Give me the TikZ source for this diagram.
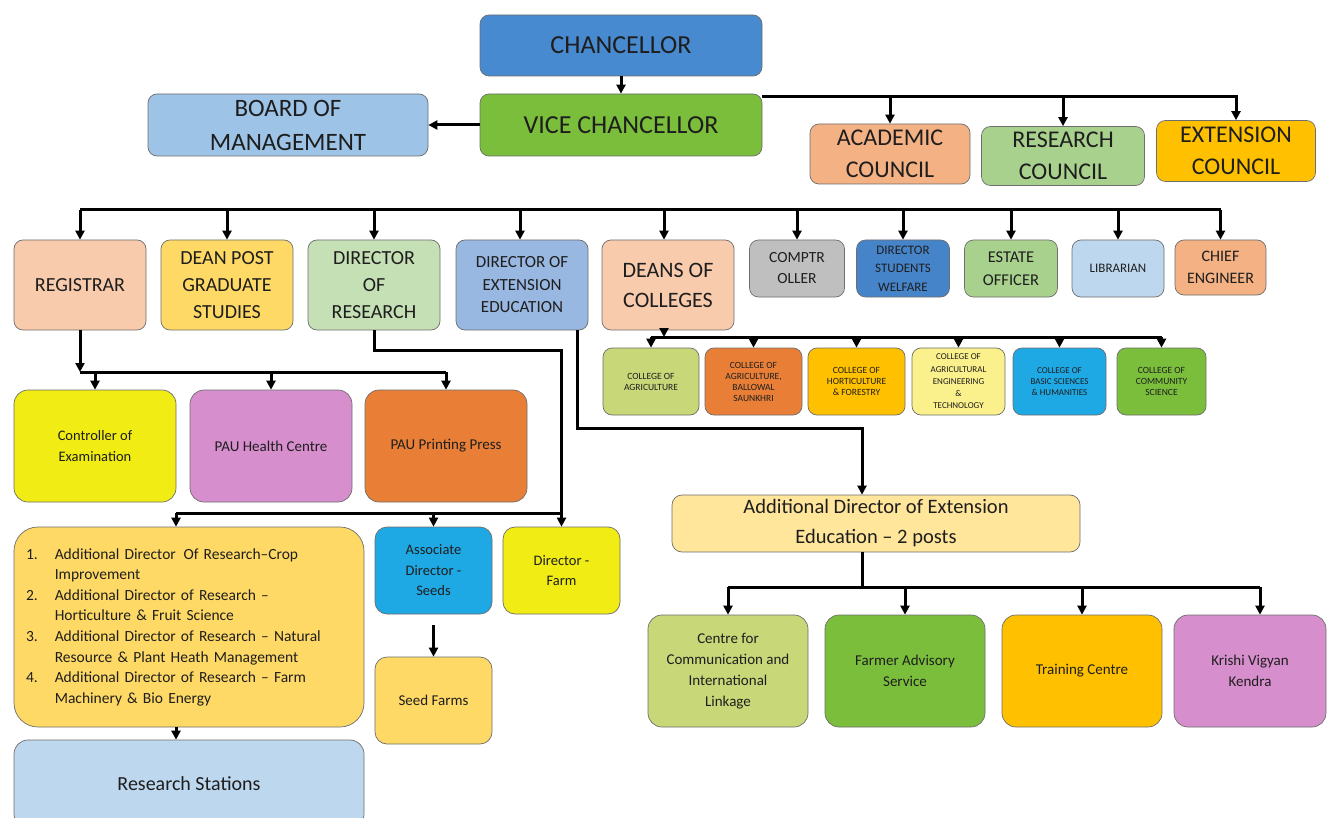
\documentclass[tikz,border=0pt]{standalone}
\usepackage{fontspec}
\setmainfont{Carlito}
\usetikzlibrary{arrows.meta}
\definecolor{txt}{RGB}{30,30,30}
\definecolor{bord}{RGB}{110,110,110}
\definecolor{cchan}{RGB}{72,138,208}
\definecolor{cvc}{RGB}{122,190,60}
\definecolor{cbom}{RGB}{157,195,230}
\definecolor{csalmon}{RGB}{244,177,131}
\definecolor{clgreen}{RGB}{169,209,142}
\definecolor{cgold}{RGB}{255,192,0}
\definecolor{cpeach}{RGB}{248,203,173}
\definecolor{cyel}{RGB}{255,217,102}
\definecolor{cpgreen}{RGB}{197,224,180}
\definecolor{cbgrey}{RGB}{152,183,225}
\definecolor{cgrey}{RGB}{191,191,191}
\definecolor{cdsw}{RGB}{70,132,202}
\definecolor{clblue}{RGB}{189,215,238}
\definecolor{colive}{RGB}{200,215,120}
\definecolor{corange}{RGB}{233,127,55}
\definecolor{cpale}{RGB}{250,240,140}
\definecolor{csky}{RGB}{30,168,228}
\definecolor{cbright}{RGB}{240,236,20}
\definecolor{cpink}{RGB}{215,142,205}
\definecolor{clight}{RGB}{255,230,155}
\tikzset{
  box/.style={draw=bord, line width=0.7pt, rounded corners=9pt, align=center, text=txt, inner sep=2pt},
  conn/.style={line width=3pt, draw=black},
  arr/.style={conn, -{Triangle[length=9pt,width=9pt]}},
  fs/.style 2 args={font=\fontsize{#1}{#2}\selectfont},
}
\begin{document}
\begin{tikzpicture}[x=1pt,y=-1pt]
\useasboundingbox (0,0) rectangle (1327,818);
\fill[white] (0,0) rectangle (1327,818);
% top
\node[box, fill=cchan, minimum width=282, minimum height=61, fs={26}{32}] (chan) at (621,45.5) {CHANCELLOR};
\node[box, fill=cvc, minimum width=282, minimum height=62, fs={26}{32}] (vc) at (621,125) {VICE CHANCELLOR};
\node[box, fill=cbom, minimum width=280, minimum height=62, fs={25}{34}] (bom) at (288,125) {BOARD OF\\MANAGEMENT};
\node[box, fill=csalmon, minimum width=160, minimum height=60, fs={24}{32}] (acad) at (890,154) {ACADEMIC\\COUNCIL};
\node[box, fill=clgreen, minimum width=163, minimum height=59, fs={24}{32}] (resc) at (1063,156) {RESEARCH\\COUNCIL};
\node[box, fill=cgold, minimum width=159, minimum height=61, fs={24}{32}] (extc) at (1236,151) {EXTENSION\\COUNCIL};
% second row
\node[box, fill=cpeach, minimum width=132, minimum height=90, fs={20}{27}] (reg) at (80,285) {REGISTRAR};
\node[box, fill=cyel, minimum width=132, minimum height=90, fs={20}{27}] (dpg) at (227,285) {DEAN POST\\GRADUATE\\STUDIES};
\node[box, fill=cpgreen, minimum width=132, minimum height=90, fs={20}{27}] (dres) at (374,285) {DIRECTOR\\OF\\RESEARCH};
\node[box, fill=cbgrey, minimum width=132, minimum height=90, fs={17}{22.5}] (dext) at (522,285) {DIRECTOR OF\\EXTENSION\\EDUCATION};
\node[box, fill=cpeach, minimum width=132, minimum height=90, fs={22}{30}] (deans) at (668,285) {DEANS OF\\COLLEGES};
\node[box, fill=cgrey, minimum width=95, minimum height=57, fs={15.5}{21}] (comp) at (797,268.5) {COMPTR\\OLLER};
\node[box, fill=cdsw, minimum width=93, minimum height=57, fs={13}{18.5}] (dsw) at (903,268.5) {DIRECTOR\\STUDENTS\\WELFARE};
\node[box, fill=clgreen, minimum width=93, minimum height=57, fs={16.5}{23}] (estate) at (1011,268.5) {ESTATE\\OFFICER};
\node[box, fill=clblue, minimum width=92, minimum height=57, fs={13}{18}] (lib) at (1118,268.5) {LIBRARIAN};
\node[box, fill=csalmon, minimum width=91, minimum height=55, fs={16}{22}] (chief) at (1220.5,267.5) {CHIEF\\ENGINEER};
% colleges
\node[box, fill=colive, minimum width=96, minimum height=67, fs={9.5}{11}] (cag) at (651,381.5) {COLLEGE OF\\AGRICULTURE};
\node[box, fill=corange, minimum width=97, minimum height=67, fs={9.5}{11}] (cball) at (753.5,381.5) {COLLEGE OF\\AGRICULTURE,\\BALLOWAL\\SAUNKHRI};
\node[box, fill=cgold, minimum width=97, minimum height=67, fs={9.5}{11}] (chort) at (856.5,381.5) {COLLEGE OF\\HORTICULTURE\\\& FORESTRY};
\node[box, fill=cpale, minimum width=93, minimum height=67, fs={9}{12.3}] (cengg) at (958.5,381.5) {COLLEGE OF\\AGRICULTURAL\\ENGINEERING\\\&\\TECHNOLOGY};
\node[box, fill=csky, minimum width=93, minimum height=67, fs={9}{11}] (cbasic) at (1059.5,381.5) {COLLEGE OF\\BASIC SCIENCES\\\& HUMANITIES};
\node[box, fill=cvc, minimum width=89, minimum height=67, fs={9.5}{11}] (ccom) at (1161.5,381.5) {COLLEGE OF\\COMMUNITY\\SCIENCE};
% registrar row
\node[box, fill=cbright, rounded corners=14pt, minimum width=162, minimum height=112, fs={14.5}{21}] (ctrl) at (95,446) {Controller of\\Examination};
\node[box, fill=cpink, rounded corners=14pt, minimum width=162, minimum height=112, fs={15}{21}] (health) at (271,446) {PAU Health Centre};
\node[box, fill=corange, rounded corners=14pt, minimum width=162, minimum height=112, fs={15}{21}] (press) at (446,446) {PAU Printing Press};
% research
\node[box, fill=cyel, rounded corners=24pt, minimum width=350, minimum height=200, text width=326pt, inner xsep=12pt, align=left, fs={15.5}{20.6}] (list) at (189,627) {\renewcommand\arraystretch{1}\begin{tabular}{@{}l@{\hspace{17pt}}l@{}}
1. & Additional Director\, Of Research–Crop\\
 & Improvement\\
2. & Additional Director of Research –\\
 & Horticulture \& Fruit Science\\
3. & Additional Director of Research – Natural\\
 & Resource \& Plant Heath Management\\
4. & Additional Director of Research – Farm\\
 & Machinery \& Bio Energy
\end{tabular}};
\node[box, fill=csky, rounded corners=12pt, minimum width=117, minimum height=87, fs={14.5}{20.5}] (assoc) at (433.5,570.5) {Associate\\Director -\\Seeds};
\node[box, fill=cbright, rounded corners=12pt, minimum width=117, minimum height=87, fs={14.5}{20.5}] (farm) at (561.5,570.5) {Director -\\Farm};
\node[box, fill=cyel, rounded corners=12pt, minimum width=117, minimum height=87, fs={15}{20.5}] (seedf) at (433.5,700.5) {Seed Farms};
\node[box, fill=clblue, rounded corners=14pt, minimum width=350, minimum height=88, fs={20}{24}] (stations) at (189,784) {Research Stations};
% extension
\node[box, fill=clight, rounded corners=10pt, minimum width=408, minimum height=57, fs={20.5}{30}] (adee) at (876,523.5) {Additional Director of Extension\\Education – 2 posts};
\node[box, fill=colive, rounded corners=14pt, minimum width=160, minimum height=112, fs={15}{21}] (ccil) at (728,671) {Centre for\\Communication and\\International\\Linkage};
\node[box, fill=cvc, rounded corners=14pt, minimum width=160, minimum height=112, fs={15}{21}] (fas) at (905,671) {Farmer Advisory\\Service};
\node[box, fill=cgold, rounded corners=14pt, minimum width=160, minimum height=112, fs={15}{21}] (tc) at (1082,671) {Training Centre};
\node[box, fill=cpink, rounded corners=14pt, minimum width=152, minimum height=112, fs={15}{21}] (kvk) at (1250,671) {Krishi Vigyan\\Kendra};
% connectors top
\draw[arr] (chan) -- (vc);
\draw[arr] (vc.west) -- (bom.east);
\coordinate (cb) at (762,97);
\draw[arr] (cb) -| (extc.north);
\draw[arr] (acad.north |- cb) -- (acad.north);
\draw[arr] (resc.north |- cb) -- (resc.north);
% main bus
\coordinate (mb) at (0,210);
\draw[conn] (reg.north |- mb) -- (chief.north |- mb);
\foreach \n in {reg,dpg,dres,comp,dsw,estate,lib,chief}{\draw[arr] (\n.north |- mb) -- (\n.north);}
\draw[arr] ([xshift=-2pt]dext.north |- mb) -- ([xshift=-2pt]dext.north);
\draw[arr] ([xshift=-4pt]deans.north |- mb) -- ([xshift=-4pt]deans.north);
% registrar bus
\coordinate (rgb) at (0,372);
\draw[arr] (reg.south) -- (reg.south |- rgb);
\draw[conn] (reg.south |- rgb) -- (press.north |- rgb);
\foreach \n in {ctrl,health,press}{\draw[arr] (\n.north |- rgb) -- (\n.north);}
% deans bus
\coordinate (db) at (0,337);
\draw[arr] ([xshift=-4pt]deans.south) -- ([xshift=-4pt]deans.south |- db);
\draw[conn] (cag.north |- db) -- (ccom.north |- db);
\foreach \n in {cag,cball,chort,cengg,cbasic,ccom}{\draw[arr] (\n.north |- db) -- (\n.north);}
% director of research
\coordinate (rj) at (0,350);
\draw[arr] (dres.south) -- (dres.south |- rj) -| (farm.north);
\coordinate (rb) at (0,513);
\draw[conn] ([xshift=-13pt]list.north |- rb) -- (farm.north |- rb);
\draw[arr] ([xshift=-13pt]list.north |- rb) -- ([xshift=-13pt]list.north);
\draw[arr] (assoc.north |- rb) -- (assoc.north);
\draw[arr] ([yshift=-11pt]assoc.south) -- (seedf.north);
\draw[arr] ([xshift=-13pt]list.south) -- ([xshift=-13pt]stations.north);
% director of extension
\coordinate (ej) at (0,428);
\draw[arr] ([xshift=55pt]dext.south) -- ([xshift=55pt]dext.south |- ej) -| ([xshift=-14pt]adee.north);
\coordinate (ab) at (0,587);
\draw[conn] ([xshift=-14pt]adee.south) -- ([xshift=-14pt]adee.south |- ab);
\draw[conn] (ccil.north |- ab) -- ([xshift=10pt]kvk.north |- ab);
\foreach \n in {ccil,fas,tc}{\draw[arr] (\n.north |- ab) -- (\n.north);}
\draw[arr] ([xshift=10pt]kvk.north |- ab) -- ([xshift=10pt]kvk.north);
\end{tikzpicture}
\end{document}
